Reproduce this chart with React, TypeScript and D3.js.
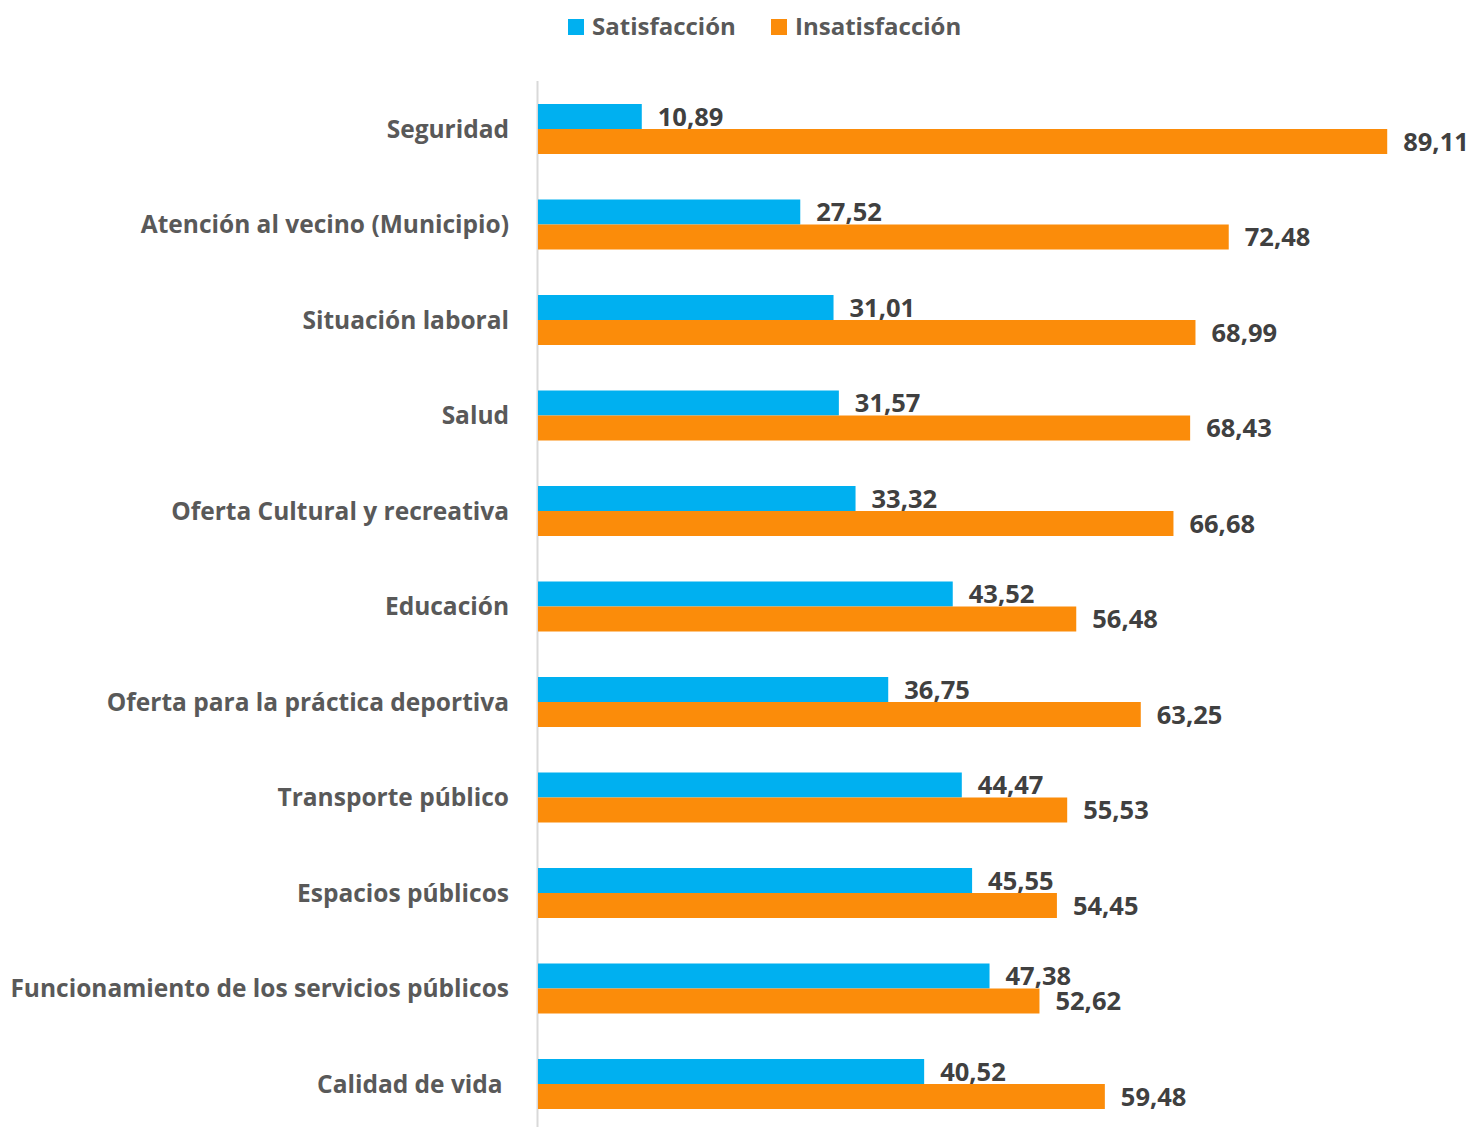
import React from "react";
import * as d3 from "d3";

const categories = [
  "Seguridad",
  "Atención al vecino (Municipio)",
  "Situación laboral",
  "Salud",
  "Oferta Cultural y recreativa",
  "Educación",
  "Oferta para la práctica deportiva",
  "Transporte público",
  "Espacios públicos",
  "Funcionamiento de los servicios públicos",
  "Calidad de vida ",
];
const satisfaccion = [10.89, 27.52, 31.01, 31.57, 33.32, 43.52, 36.75, 44.47, 45.55, 47.38, 40.52];
const insatisfaccion = [89.11, 72.48, 68.99, 68.43, 66.68, 56.48, 63.25, 55.53, 54.45, 52.62, 59.48];
const seriesNames = ["Satisfacción", "Insatisfacción"];
const seriesColors = ["#00B0F0", "#FB8C0A"];

const W = 1473;
const H = 1127;
const FONT = "'Open Sans', 'DejaVu Sans', sans-serif";

export default function App() {
  const left = 538;
  const x = d3.scaleLinear().domain([0, 100]).range([left, 1491]);
  const y = d3
    .scaleBand<string>()
    .domain(categories)
    .range([81.25, 81.25 + 95.5 * categories.length])
    .paddingInner(0)
    .paddingOuter(0);
  const barH = 25;
  const fmt = (v: number) => v.toFixed(2).replace(".", ",");
  const series = [satisfaccion, insatisfaccion];

  return (
    <svg
      width={W}
      height={H}
      style={{ position: "absolute", left: 0, top: 0, background: "#fff" }}
      fontFamily={FONT}
      fontWeight={700}
    >
      {/* legend */}
      <g>
        {[
          { x0: 568, i: 0 },
          { x0: 771, i: 1 },
        ].map(({ x0, i }) => (
          <g key={i}>
            <rect x={x0} y={19} width={16} height={16} fill={seriesColors[i]} />
            <text x={x0 + 24} y={27} dy="0.35em" fontSize={24} fill="#595959">
              {seriesNames[i]}
            </text>
          </g>
        ))}
      </g>

      {/* axis line */}
      <line x1={left - 0.5} x2={left - 0.5} y1={81} y2={H} stroke="#D9D9D9" strokeWidth={2} />

      {categories.map((c, ci) => {
        const cy = (y(c) as number) + y.bandwidth() / 2;
        return (
          <g key={c}>
            <text
              x={509}
              y={cy}
              dy="0.35em"
              textAnchor="end"
              fontSize={24.5}
              fill="#595959"
              style={{ whiteSpace: "pre" }}
            >
              {c}
            </text>
            {series.map((s, si) => {
              const by = cy - barH + si * barH;
              const v = s[ci];
              return (
                <g key={si}>
                  <rect
                    x={x(0)}
                    y={by}
                    width={x(v) - x(0)}
                    height={barH}
                    fill={seriesColors[si]}
                  />
                  <text
                    x={x(v) + 16}
                    y={by + barH / 2}
                    dy="0.37em"
                    fontSize={25.5}
                    fill="#404040"
                  >
                    {fmt(v)}
                  </text>
                </g>
              );
            })}
          </g>
        );
      })}
    </svg>
  );
}
